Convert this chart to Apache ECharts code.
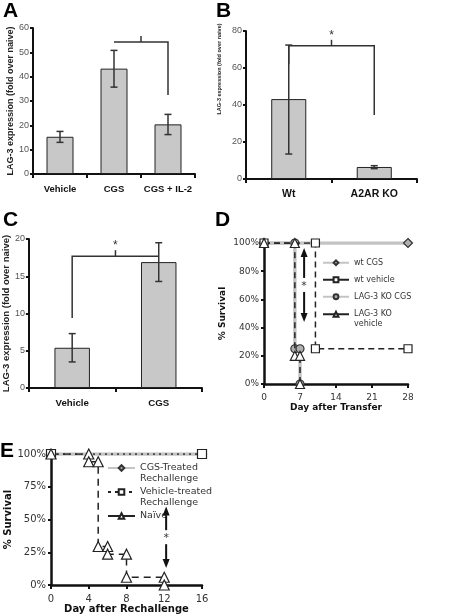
<!DOCTYPE html>
<html><head><meta charset="utf-8">
<script src="https://cdn.jsdelivr.net/npm/echarts@6/dist/echarts.min.js"></script>
<style>html,body{margin:0;padding:0;background:#fff}#c{width:456px;height:616px}</style>
</head><body><div id="c"></div><script>
// ---------- data ----------
const catsA = ['Vehicle', 'CGS', 'CGS + IL-2'];
const barA = [15.3, 43.3, 20.4];
const errLoA = [13.0, 35.7, 16.2];
const errHiA = [17.5, 50.8, 24.5];
const bracketA = [1, 2, 54.2, 54.2, 32.5]; // from, to, left end, top, right end
const sigA = '';

const catsB = ['Wt', 'A2AR KO'];
const barB = [43.2, 6.5];
const errLoB = [13.5, 5.6];
const errHiB = [72.4, 7.2];
const bracketB = [0, 1, 62, 72, 34.6];
const sigB = '*';

const catsC = ['Vehicle', 'CGS'];
const barC = [5.4, 16.9];
const errLoC = [3.5, 14.3];
const errHiC = [7.3, 19.5];
const bracketC = [0, 1, 9.4, 17.7, 17.7];
const sigC = '*';

const wtCGS = [[0, 100], [28, 100]];
const wtVehicle = [[0, 100], [10, 100], [10, 25], [28, 25]];
const lagCGS = [[0, 100], [6, 100], [6, 25], [7, 25], [7, 0]];
const lagVehicle = [[0, 100], [6, 100], [6, 20], [7, 20], [7, 0]];
const arrowD = [7.8, 96.5, 44];

const cgsRe = [[0, 100], [16, 100]];
const vehRe = [[0, 100], [16, 100]];
const naive = [[0, 100], [4, 100], [4, 94.1], [5, 94.1], [5, 29.4], [6, 29.4], [6, 23.5], [8, 23.5], [8, 5.9], [12, 5.9], [12, 0]];
const arrowE = [12.2, 60, 13];

// ---------- helpers ----------
const AX = '#111';
function errRender(params, api) {
  const x = api.value(0), lo = api.coord([x, api.value(1)]), hi = api.coord([x, api.value(2)]);
  const w = 3.5, st = {stroke: '#333', lineWidth: 1.5};
  return {type: 'group', children: [
    {type: 'line', shape: {x1: lo[0], y1: lo[1], x2: hi[0], y2: hi[1]}, style: st},
    {type: 'line', shape: {x1: lo[0] - w, y1: lo[1], x2: lo[0] + w, y2: lo[1]}, style: st},
    {type: 'line', shape: {x1: hi[0] - w, y1: hi[1], x2: hi[0] + w, y2: hi[1]}, style: st}
  ]};
}
function bracketRender(label) {
  return function (params, api) {
    const x1 = api.value(0), x2 = api.value(1);
    const a = api.coord([x1, api.value(2)]), b = api.coord([x1, api.value(3)]);
    const c = api.coord([x2, api.value(3)]), d = api.coord([x2, api.value(4)]);
    const mx = (b[0] + c[0]) / 2;
    const st = {stroke: '#333', lineWidth: 1.5, fill: null};
    return {type: 'group', children: [
      {type: 'polyline', shape: {points: [a, b, c, d]}, style: st},
      {type: 'line', shape: {x1: mx, y1: b[1], x2: mx, y2: b[1] - 6}, style: st},
      {type: 'text', x: mx, y: b[1] - 4, style: {text: label, align: 'center', verticalAlign: 'bottom', font: '12px "Liberation Sans"', fill: '#333'}}
    ]};
  };
}
function arrowRender(params, api) {
  const x = api.value(0), p1 = api.coord([x, api.value(1)]), p2 = api.coord([x, api.value(2)]);
  const mid = (p1[1] + p2[1]) / 2, gap = 7, hw = 3.5, hl = 9;
  const st = {stroke: '#111', lineWidth: 2};
  return {type: 'group', children: [
    {type: 'line', shape: {x1: p1[0], y1: p1[1] + hl, x2: p1[0], y2: mid - gap}, style: st},
    {type: 'line', shape: {x1: p1[0], y1: mid + gap, x2: p1[0], y2: p2[1] - hl}, style: st},
    {type: 'polygon', shape: {points: [[p1[0], p1[1]], [p1[0] - hw, p1[1] + hl], [p1[0] + hw, p1[1] + hl]]}, style: {fill: '#111'}},
    {type: 'polygon', shape: {points: [[p2[0], p2[1]], [p2[0] - hw, p2[1] - hl], [p2[0] + hw, p2[1] - hl]]}, style: {fill: '#111'}},
    {type: 'text', x: p1[0], y: mid + 1, style: {text: '*', align: 'center', verticalAlign: 'middle', font: '11px "DejaVu Sans"', fill: '#333'}}
  ]};
}
function catX(g, cats, fs) {
  return {type: 'category', gridIndex: g, data: cats, boundaryGap: true,
    axisLine: {lineStyle: {color: AX, width: 2}},
    axisTick: {show: true, alignWithLabel: false, length: 4, lineStyle: {color: AX, width: 2}},
    axisLabel: {interval: 0, margin: 10, color: '#111', fontWeight: 'bold', fontSize: fs, fontFamily: 'Liberation Sans'}};
}
function valY(g, max, interval, name, gap, fs) {
  return {type: 'value', gridIndex: g, min: 0, max: max, interval: interval,
    name: name, nameLocation: 'middle', nameGap: gap,
    nameTextStyle: {fontFamily: 'Liberation Sans', fontWeight: 'bold', fontSize: fs, color: '#222'},
    splitLine: {show: false},
    axisLine: {show: true, lineStyle: {color: AX, width: 2}},
    axisTick: {show: true, length: 3, lineStyle: {color: AX, width: 2}},
    axisLabel: {margin: 4, color: '#555', fontSize: 9, fontFamily: 'Liberation Sans'}};
}
function survX(g, max, interval, name, fs) {
  return {type: 'value', gridIndex: g, min: 0, max: max, interval: interval,
    name: name, nameLocation: 'middle', nameGap: 19,
    nameTextStyle: {fontFamily: 'DejaVu Sans', fontWeight: 'bold', fontSize: fs, color: '#111'},
    splitLine: {show: false},
    axisLine: {lineStyle: {color: AX, width: 2.5}},
    axisTick: {show: true, length: 4, lineStyle: {color: AX, width: 2}},
    axisLabel: {margin: 9, color: '#333', fontSize: fs, fontFamily: 'DejaVu Sans'}};
}
function survY(g, interval, gap, fs) {
  return {type: 'value', gridIndex: g, min: 0, max: 100, interval: interval,
    name: '% Survival', nameLocation: 'middle', nameGap: gap,
    nameTextStyle: {fontFamily: 'DejaVu Sans', fontWeight: 'bold', fontSize: fs, color: '#111'},
    splitLine: {show: false},
    axisLine: {show: true, lineStyle: {color: AX, width: 2.5}},
    axisTick: {show: true, length: 3, lineStyle: {color: AX, width: 2}},
    axisLabel: {margin: 5, color: '#333', fontSize: fs, fontFamily: 'DejaVu Sans', formatter: '{value}%'}};
}
function bar(i, vals, w) {
  return {type: 'bar', xAxisIndex: i, yAxisIndex: i, data: vals, barWidth: w,
    itemStyle: {color: '#c8c8c8', borderColor: '#222', borderWidth: 1}, z: 2};
}
function errs(i, lo, hi) {
  return {type: 'custom', xAxisIndex: i, yAxisIndex: i, renderItem: errRender, encode: {x: 0, y: [1, 2]},
    data: lo.map((v, k) => [k, v, hi[k]]), z: 3};
}
function brk(i, b, label) {
  return {type: 'custom', xAxisIndex: i, yAxisIndex: i, renderItem: bracketRender(label), encode: {x: [0, 1], y: [2, 3, 4]},
    data: [b], z: 4};
}
const gray = (name, i, data, sym, sz) => ({name, type: 'line', xAxisIndex: i, yAxisIndex: i, data,
  symbol: sym, symbolSize: sz, showAllSymbol: true,
  lineStyle: {color: '#c4c4c4', width: 3.5, type: 'solid'},
  itemStyle: {color: '#b0b0b0', borderColor: '#333', borderWidth: 1.2}, z: 2});
const blk = (name, i, data, sym, sz, dash) => ({name, type: 'line', xAxisIndex: i, yAxisIndex: i, data,
  symbol: sym, symbolSize: sz, showAllSymbol: true,
  lineStyle: {color: '#222', width: 1.5, type: dash},
  itemStyle: {color: '#fff', borderColor: '#222', borderWidth: 1.2}, z: 3});

const chart = echarts.init(document.getElementById('c'), null, {renderer: 'canvas'});
const letter = (t, x, y) => ({type: 'text', x, y, style: {text: t, font: 'bold 21px "Liberation Sans"', fill: '#000'}});

const legD = {orient: 'vertical', padding: 0, itemWidth: 26, itemHeight: 6, selectedMode: false,
  textStyle: {fontFamily: 'DejaVu Sans', fontSize: 8, color: '#333', lineHeight: 9.5}};
const legE = {orient: 'vertical', padding: 0, itemWidth: 27, itemHeight: 7, selectedMode: false,
  textStyle: {fontFamily: 'DejaVu Sans', fontSize: 9.5, color: '#333', lineHeight: 11}};

chart.setOption({
  animation: false,
  backgroundColor: '#fff',
  grid: [
    {left: 33, top: 28, width: 162, height: 146},
    {left: 246, top: 31, width: 171, height: 148},
    {left: 25, top: 239, width: 177, height: 149},
    {left: 264, top: 243, width: 144, height: 141},
    {left: 51, top: 454, width: 151, height: 131}
  ],
  xAxis: [catX(0, catsA, 9.5), catX(1, catsB, 10.5), catX(2, catsC, 9.7),
    survX(3, 28, 7, 'Day after Transfer', 9), survX(4, 16, 4, 'Day after Rechallenge', 10)],
  yAxis: [valY(0, 60, 10, 'LAG-3 expression (fold over naive)', 17, 9),
    valY(1, 80, 20, '', 0, 9),
    valY(2, 20, 5, 'LAG-3 expression (fold over naive)', 17, 9.5),
    survY(3, 20, 37, 9), survY(4, 25, 33, 10)],
  legend: [
    Object.assign({}, legD, {data: [{name: 'wt CGS'}, {name: 'wt vehicle', lineStyle: {type: 'solid'}}, {name: 'LAG-3 KO CGS'}],
      left: 322, top: 258, itemGap: 7.5}),
    Object.assign({}, legD, {data: [{name: 'LAG-3 KO vehicle', lineStyle: {type: 'solid'}}],
      left: 322, top: 300, formatter: n => ' \n' + n.replace('KO ', 'KO\n')}),
    Object.assign({}, legE, {data: [{name: 'CGS-Treated Rechallenge'},
        {name: 'Vehicle-treated Rechallenge', lineStyle: {type: [3, 4]}}],
      left: 107, top: 451.5, itemGap: -9, formatter: n => ' \n' + n.replace(' Rechallenge', '\nRechallenge')}),
    Object.assign({}, legE, {data: [{name: 'Naïve', lineStyle: {type: 'solid'}}], left: 107, top: 510.5})
  ],
  graphic: [
    letter('A', 3, 1), letter('B', 216, 1), letter('C', 3, 210), letter('D', 215, 210), letter('E', 0, 441),
    {type: 'text', x: 219, y: 69, rotation: Math.PI / 2,
      style: {text: 'LAG-3 expression (fold over naive)', align: 'center', verticalAlign: 'middle', font: 'bold 5.5px "Liberation Sans"', fill: '#222'}}
  ],
  series: [
    bar(0, barA, '50%'), errs(0, errLoA, errHiA), brk(0, bracketA, sigA),
    bar(1, barB, '41%'), errs(1, errLoB, errHiB), brk(1, bracketB, sigB),
    bar(2, barC, '41%'), errs(2, errLoC, errHiC), brk(2, bracketC, sigC),
    gray('wt CGS', 3, wtCGS, 'diamond', 9),
    gray('LAG-3 KO CGS', 3, lagCGS, 'circle', 8),
    blk('wt vehicle', 3, wtVehicle, 'rect', 8, [6, 4]),
    blk('LAG-3 KO vehicle', 3, lagVehicle, 'triangle', 9, [6, 4]),
    {type: 'custom', xAxisIndex: 3, yAxisIndex: 3, renderItem: arrowRender, encode: {x: 0, y: [1, 2]}, data: [arrowD], z: 5},
    gray('CGS-Treated Rechallenge', 4, cgsRe, 'diamond', 9),
    blk('Vehicle-treated Rechallenge', 4, vehRe, 'rect', 9, [2, 4]),
    blk('Naïve', 4, naive, 'triangle', 10, [7, 5]),
    {type: 'custom', xAxisIndex: 4, yAxisIndex: 4, renderItem: arrowRender, encode: {x: 0, y: [1, 2]}, data: [arrowE], z: 5}
  ]
});
</script></body></html>
